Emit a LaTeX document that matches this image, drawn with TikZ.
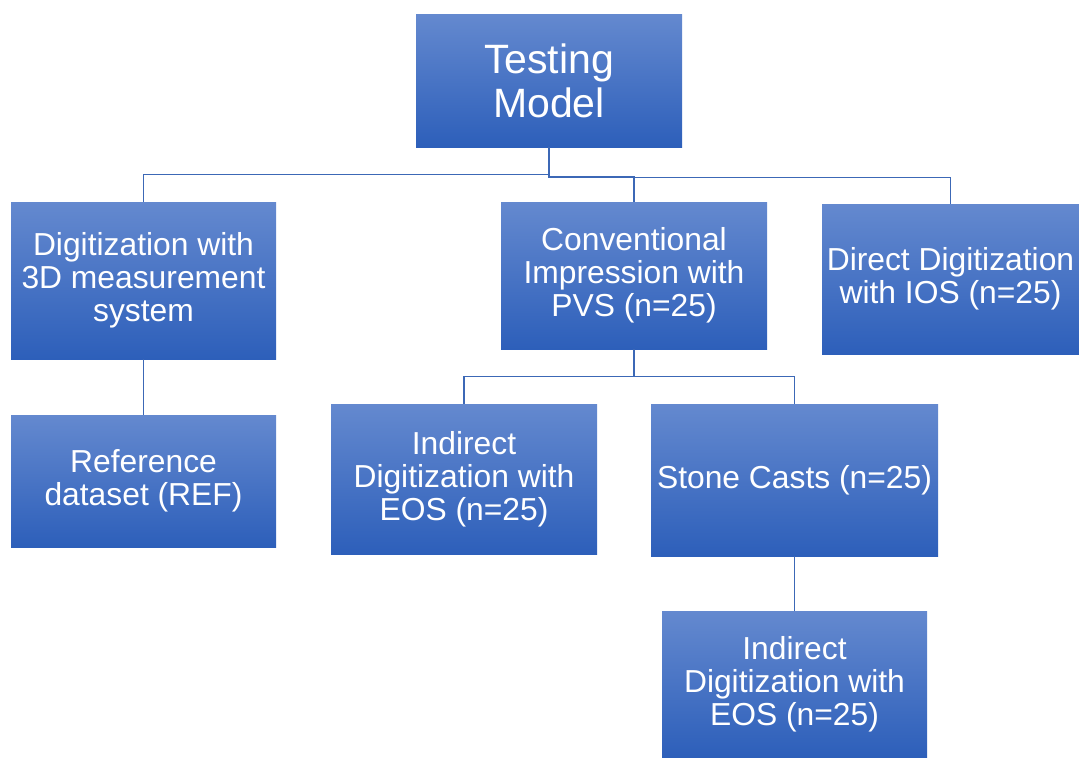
\documentclass[tikz,border=0pt]{standalone}
\usepackage{fontspec}
\setmainfont{Liberation Sans}
\usepackage{tikz}
\usetikzlibrary{positioning,calc}
\usepackage{xcolor}
\definecolor{BoxTop}{HTML}{6489CF}
\definecolor{BoxBottom}{HTML}{2D5FBA}
\definecolor{LinkBlue}{HTML}{3C68B6}

\tikzset{
  blockbox/.style={top color=BoxTop,bottom color=BoxBottom,draw=none,inner sep=0pt,
    align=center,text=white,font=\fontsize{31.8}{33}\selectfont},
  link/.style={draw=LinkBlue,line width=1.2pt}
}

\begin{document}
\begin{tikzpicture}[x=1pt,y=-1pt]
  \useasboundingbox (0,0) rectangle (1079,758);
  % boxes
  \node[blockbox,minimum width=266pt,minimum height=133pt,font=\fontsize{41}{44}\selectfont] (tm) at (549,80.5) {Testing\\Model};
  \node[blockbox,minimum width=265pt,minimum height=157pt] (dig) at (143.5,280.5) {Digitization with\\3D measurement\\system};
  \node[blockbox,minimum width=266pt,minimum height=147pt] (conv) at (634,275.5) {Conventional\\Impression with\\PVS (n=25)};
  \node[blockbox,minimum width=257pt,minimum height=150pt] (dios) at (950.5,279) {Direct Digitization\\with IOS (n=25)};
  \node[blockbox,minimum width=265pt,minimum height=132pt] (ref) at (143.5,481) {Reference\\dataset (REF)};
  \node[blockbox,minimum width=266pt,minimum height=150pt] (ind1) at (464,479) {Indirect\\Digitization with\\EOS (n=25)};
  \node[blockbox,minimum width=287pt,minimum height=152pt] (stone) at (794.5,480) {Stone Casts (n=25)};
  \node[blockbox,minimum width=265pt,minimum height=146pt] (ind2) at (794.5,684) {Indirect\\Digitization with\\EOS (n=25)};
  % connectors
  \draw[link] (tm.south) -- ++(0,27) -| (dig.north);
  \draw[link] (tm.south) -- ++(0,29) -| (conv.north);
  \draw[link] (tm.south) -- ++(0,30) -| (dios.north);
  \draw[link] (dig.south) -- (ref.north);
  \draw[link] (conv.south) -- ++(0,27) -| (ind1.north);
  \draw[link] (conv.south) -- ++(0,27) -| (stone.north);
  \draw[link] (stone.south) -- (ind2.north);
\end{tikzpicture}
\end{document}
